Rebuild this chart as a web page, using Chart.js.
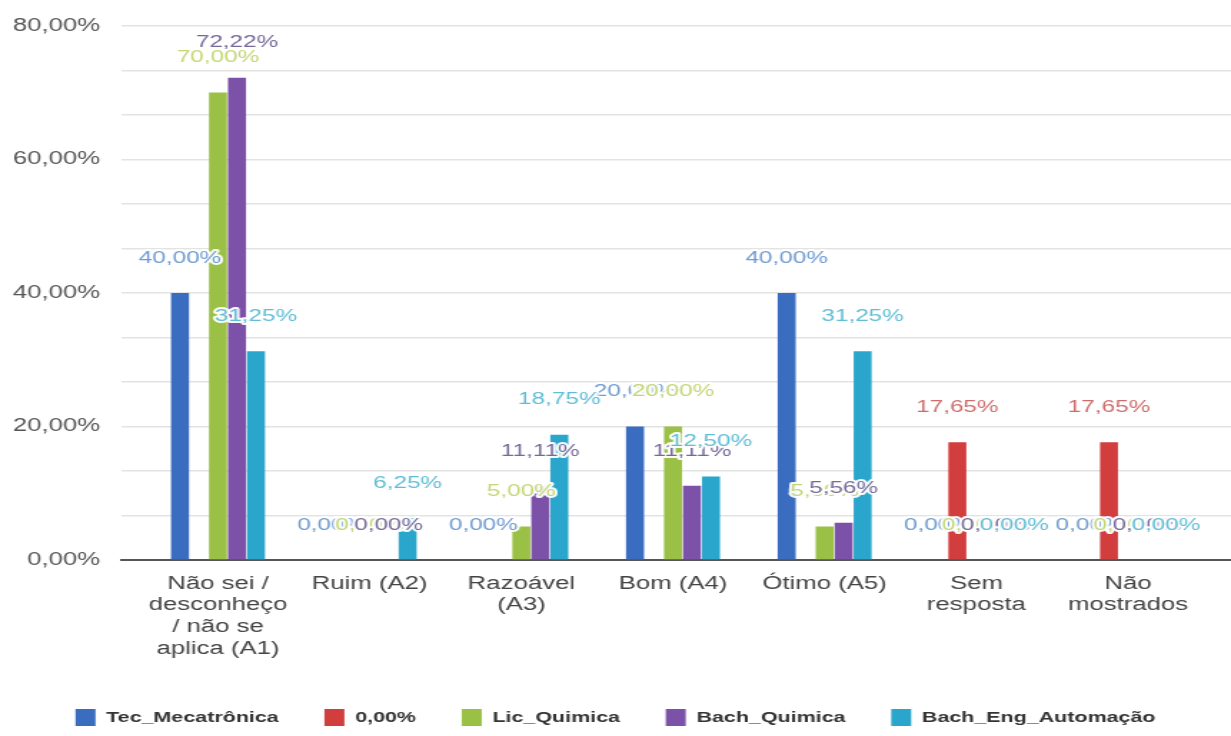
<!DOCTYPE html>
<html>
<head>
<meta charset="utf-8">
<script src="https://cdn.jsdelivr.net/npm/chart.js"></script>
<style>
  html, body { margin: 0; padding: 0; background: #fff; overflow: hidden; }
  /* o gráfico original é esticado na horizontal */
  #wrap { width: 861px; height: 736px; transform: scaleX(1.4297); transform-origin: 0 0; }
</style>
</head>
<body>
<div id="wrap"><canvas id="grafico" width="861" height="736"></canvas></div>
<script>
// Categorias (eixo X)
const categorias = [
    ['Não sei /', 'desconheço', '/ não se', 'aplica (A1)'],
    ['Ruim (A2)'],
    ['Razoável', '(A3)'],
    ['Bom (A4)'],
    ['Ótimo (A5)'],
    ['Sem', 'resposta'],
    ['Não', 'mostrados']
];

// Séries (%)
const tecMecatronica   = [40, 0, 0, 20, 40, 0, 0];
const semCurso         = [0, 0, 0, 0, 0, 17.65, 17.65];
const licQuimica       = [70, 0, 5, 20, 5, 0, 0];
const bachQuimica      = [72.22, 0, 11.11, 11.11, 5.56, 0, 0];
const bachEngAutomacao = [31.25, 6.25, 18.75, 12.5, 31.25, 0, 0];

// Eixo Y
const yMin = 0;
const yMax = 80;
const yRotulos = [0, 20, 40, 60, 80];

const cores = ['#3a6cc0', '#d23e3e', '#9bc046', '#7c52a8', '#2aa5cb'];
const coresRotulo = ['#6f9bd2', '#cf6b6b', '#c3d674', '#76699a', '#5fbdd6'];

function formatar(v) {
    return v.toFixed(2).replace('.', ',') + '%';
}

// Rótulos de valor acima das barras
const rotulosValor = {
    id: 'rotulosValor',
    afterDatasetsDraw(chart) {
        const ctx = chart.ctx;
        ctx.save();
        ctx.font = '17px "Liberation Sans", Arial, sans-serif';
        ctx.textAlign = 'center';
        ctx.textBaseline = 'middle';
        ctx.lineJoin = 'round';
        chart.data.datasets.forEach((ds, i) => {
            chart.getDatasetMeta(i).data.forEach((barra, j) => {
                const v = ds.data[j];
                if (i === 1 && v === 0) return; // série vermelha não mostra zeros
                const txt = formatar(v);
                const y = barra.y - 35;
                ctx.lineWidth = 4;
                ctx.strokeStyle = 'rgba(255,255,255,0.95)';
                ctx.strokeText(txt, barra.x, y);
                ctx.fillStyle = coresRotulo[i];
                ctx.fillText(txt, barra.x, y);
            });
        });
        ctx.restore();
    }
};

const nomes = ['Tec_Mecatrônica', '0,00%', 'Lic_Quimica', 'Bach_Quimica', 'Bach_Eng_Automação'];
const series = [tecMecatronica, semCurso, licQuimica, bachQuimica, bachEngAutomacao];

new Chart(document.getElementById('grafico'), {
    type: 'bar',
    data: {
        labels: categorias,
        datasets: series.map((dados, i) => ({
            label: nomes[i],
            data: dados,
            backgroundColor: cores[i],
            borderWidth: 0,
            categoryPercentage: 0.626,
            barPercentage: 0.948
        }))
    },
    options: {
        responsive: false,
        devicePixelRatio: 1,
        animation: false,
        layout: { padding: { top: 23, right: 0, bottom: 0, left: 0 } },
        plugins: {
            tooltip: { enabled: false },
            legend: {
                position: 'bottom',
                labels: {
                    color: '#333',
                    font: { family: '"Liberation Sans", Arial, sans-serif', size: 15, weight: 'bold' },
                    boxWidth: 14,
                    boxHeight: 17,
                    padding: 32
                }
            }
        },
        scales: {
            x: {
                grid: { display: false, drawTicks: false },
                border: { display: true, color: '#555', width: 2 },
                ticks: {
                    color: '#444',
                    padding: 13,
                    maxRotation: 0,
                    autoSkip: false,
                    font: { family: '"Liberation Sans", Arial, sans-serif', size: 18, lineHeight: 1.2 }
                },
                afterFit: function(scale) { scale.height = 117; },
                // espaço extra à esquerda e à direita das categorias
                afterBuildTicks: function(scale) {
                    scale._startValue = -0.636;
                    scale._valueRange = 7.315;
                }
            },
            y: {
                min: yMin,
                max: yMax,
                grid: { color: '#e3e3e3', lineWidth: 1.5, drawTicks: false },
                border: { display: false },
                ticks: {
                    stepSize: 20 / 3,
                    color: '#555',
                    padding: 15,
                    font: { family: '"Liberation Sans", Arial, sans-serif', size: 18 },
                    callback: function(v) {
                        const r = yRotulos.find(t => Math.abs(t - v) < 1e-6);
                        return r === undefined ? '' : formatar(r);
                    }
                },
                afterFit: function(scale) { scale.width = 85; }
            }
        }
    },
    plugins: [rotulosValor]
});
</script>
</body>
</html>
